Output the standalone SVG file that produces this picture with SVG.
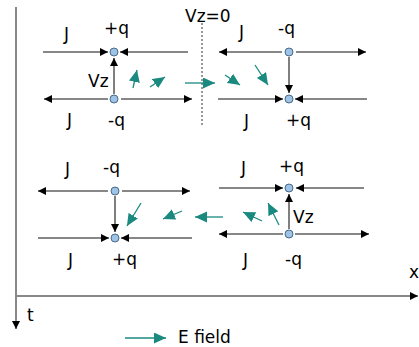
<svg xmlns="http://www.w3.org/2000/svg" width="419" height="347" viewBox="0 0 419 347">
<defs>
<marker id="ab" markerUnits="userSpaceOnUse" markerWidth="9" markerHeight="9" refX="8" refY="4" orient="auto"><path d="M0,0 L8,4 L0,8 z" fill="#000"/></marker>
<marker id="at" markerUnits="userSpaceOnUse" markerWidth="14" markerHeight="12" refX="12" refY="5.5" orient="auto"><path d="M0,0 L12,5.5 L0,11 z" fill="#1a8a80"/></marker>
<style>
.t{font-family:"DejaVu Sans",Verdana,sans-serif;font-size:17px;fill:#000}
.j{stroke:#111;stroke-width:1.2;fill:none;marker-end:url(#ab)}
.v{stroke:#555;stroke-width:1.5;fill:none;marker-end:url(#ab)}
.e{stroke:#1a8a80;stroke-width:1.3;fill:none;marker-end:url(#at)}
.c{fill:#9dc3e6;stroke:#4a6a8a;stroke-width:1}
.ax{stroke:#888;stroke-width:2;fill:none;marker-end:url(#ab)}
</style>
</defs>
<g id="axes">
<line class="ax" x1="16" y1="7" x2="16" y2="329"/>
<line class="ax" x1="17" y1="296" x2="418" y2="296"/>
<text class="t" x="409" y="278">x</text>
<text class="t" x="27" y="321">t</text>
</g>
<line x1="202" y1="23" x2="202" y2="126" stroke="#333" stroke-width="1" stroke-dasharray="2,2"/>
<text class="t" x="185" y="22">Vz=0</text>
<g id="tl">
<circle class="c" cx="114" cy="52" r="4"/>
<circle class="c" cx="114" cy="99" r="4"/>
<text class="t" x="64" y="40">J</text>
<text class="t" x="104" y="34">+q</text>
<text class="t" x="88" y="87">Vz</text>
<text class="t" x="67" y="126">J</text>
<text class="t" x="108" y="126">-q</text>
</g>
<g id="tr">
<circle class="c" cx="289" cy="52" r="4"/>
<circle class="c" cx="289" cy="99" r="4"/>
<text class="t" x="239" y="38">J</text>
<text class="t" x="278" y="34">-q</text>
<text class="t" x="244" y="127">J</text>
<text class="t" x="286" y="126">+q</text>
</g>
<g id="bl">
<circle class="c" cx="115" cy="191" r="4"/>
<circle class="c" cx="115" cy="238" r="4"/>
<text class="t" x="65" y="175">J</text>
<text class="t" x="103" y="173">-q</text>
<text class="t" x="68" y="266">J</text>
<text class="t" x="112" y="265">+q</text>
</g>
<g id="br">
<circle class="c" cx="289" cy="188" r="4"/>
<circle class="c" cx="289" cy="234" r="4"/>
<text class="t" x="241" y="174">J</text>
<text class="t" x="279" y="172">+q</text>
<text class="t" x="293" y="223">Vz</text>
<text class="t" x="243" y="266">J</text>
<text class="t" x="285" y="265">-q</text>
</g>
<g id="connectors">
<line class="j" x1="43" y1="52" x2="108" y2="52"/>
<line class="j" x1="188" y1="52" x2="120" y2="52"/>
<line class="v" x1="114" y1="94" x2="114" y2="58"/>
<line class="j" x1="108" y1="99" x2="44" y2="99"/>
<line class="j" x1="121" y1="99" x2="192" y2="99"/>
<line class="j" x1="282" y1="52" x2="219" y2="52"/>
<line class="j" x1="296" y1="52" x2="366" y2="52"/>
<line class="v" x1="289" y1="57" x2="289" y2="93"/>
<line class="j" x1="218" y1="99" x2="283" y2="99"/>
<line class="j" x1="367" y1="99" x2="295" y2="99"/>
<line class="j" x1="108" y1="191" x2="38" y2="191"/>
<line class="j" x1="122" y1="191" x2="190" y2="191"/>
<line class="v" x1="115" y1="196" x2="115" y2="232"/>
<line class="j" x1="38" y1="238" x2="109" y2="238"/>
<line class="j" x1="192" y1="238" x2="121" y2="238"/>
<line class="j" x1="219" y1="188" x2="283" y2="188"/>
<line class="j" x1="364" y1="188" x2="296" y2="188"/>
<line class="v" x1="289" y1="229" x2="289" y2="194"/>
<line class="j" x1="283" y1="234" x2="219" y2="234"/>
<line class="j" x1="295" y1="234" x2="369" y2="234"/>
<line class="e" x1="133" y1="88" x2="137" y2="70"/>
<line class="e" x1="150" y1="87" x2="165" y2="77"/>
<line class="e" x1="185" y1="83" x2="215" y2="83"/>
<line class="e" x1="225" y1="75" x2="240" y2="85"/>
<line class="e" x1="255" y1="65" x2="268" y2="85"/>
<line class="e" x1="141" y1="203" x2="127" y2="226"/>
<line class="e" x1="182" y1="211" x2="163" y2="219"/>
<line class="e" x1="223" y1="217" x2="195" y2="217"/>
<line class="e" x1="262" y1="221" x2="243" y2="212"/>
<line class="e" x1="279" y1="225" x2="268" y2="203"/>
</g>
<g id="legend">
<line class="e" x1="125" y1="338" x2="166" y2="338"/>
<text class="t" x="178" y="343">E field</text>
</g>
</svg>
